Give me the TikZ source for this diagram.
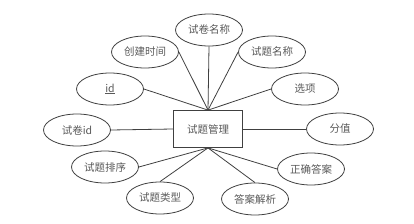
\documentclass[tikz,border=0pt]{standalone}
\usepackage{fontspec}
\setmainfont{Noto Sans CJK SC}
\usetikzlibrary{shapes.geometric}
\definecolor{txt}{HTML}{595959}
\definecolor{ln}{HTML}{404040}
\begin{document}
\begin{tikzpicture}[x=1pt,y=-1pt,
  attr/.style={ellipse,draw=ln,line width=0.8pt,minimum width=67pt,minimum height=32pt,inner sep=0pt,text=txt,font=\fontsize{10.5}{12}\selectfont},
  ent/.style={rectangle,draw=ln,line width=0.8pt,minimum width=69pt,minimum height=37pt,inner sep=0pt,text=txt,font=\fontsize{10.5}{12}\selectfont},
  conn/.style={draw=ln,line width=0.8pt}]
\useasboundingbox (0,0) rectangle (414,224);
\node[ent] (e) at (208,129) {试题管理};
\node[attr] (mc) at (209,30) {试卷名称};
\node[attr] (cj) at (145,52) {创建时间};
\node[attr] (tm) at (272,52) {试题名称};
\node[attr] (id) at (110,89) {\underline{id}};
\node[attr] (xx) at (305,89) {选项};
\node[attr] (sj) at (77,130) {试卷id};
\node[attr] (fz) at (340,129) {分值};
\node[attr] (px) at (105,167) {试题排序};
\node[attr] (da) at (311,169) {正确答案};
\node[attr] (lx) at (160,198) {试题类型};
\node[attr] (jx) at (255,199) {答案解析};
\draw[conn] (mc.south) -- (e.north);
\draw[conn] (cj.east) -- (e.north);
\draw[conn] (tm.west) -- (e.north);
\draw[conn] (id.east) -- (e.north);
\draw[conn] (xx.west) -- (e.north);
\draw[conn] (sj.east) -- (e.west);
\draw[conn] (fz.west) -- (e.east);
\draw[conn] (px.east) -- (e.south);
\draw[conn] (da.west) -- (e.south);
\draw[conn] (lx.north) -- (e.south);
\draw[conn] (jx.north) -- (e.south);
\end{tikzpicture}
\end{document}
